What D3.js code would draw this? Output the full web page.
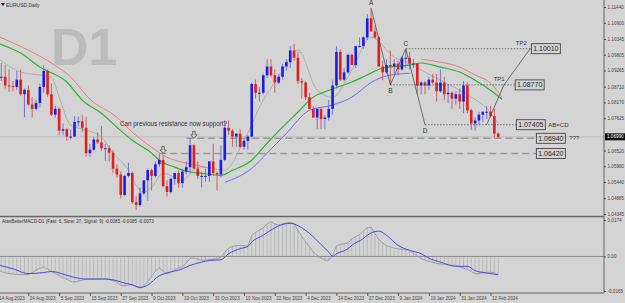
<!DOCTYPE html>
<html>
<head>
<meta charset="utf-8">
<script src="https://cdn.jsdelivr.net/npm/d3@7"></script>
<style>
  body { margin: 0; background: #d4d4d4; }
  svg { display: block; font-family: 'Liberation Sans', Arial, sans-serif; }
</style>
</head>
<body>
<svg id="chart" width="625" height="303"></svg>
<script>
// EURUSD daily, 14 Aug 2023 .. 14 Feb 2024 (bar index 0..130)
var open = [1.0950,1.0905,1.0905,1.0875,1.0873,1.0870,1.0895,1.0845,1.0860,1.0810,1.0795,1.0815,1.0870,1.0925,1.0845,1.0775,1.0795,1.0720,1.0725,1.0700,
  1.0700,1.0750,1.0752,1.0730,1.0643,1.0655,1.0690,1.0680,1.0660,1.0660,1.0645,1.0590,1.0570,1.0500,1.0565,1.0575,1.0475,1.0465,1.0505,1.0550,
  1.0585,1.0565,1.0605,1.0620,1.0530,1.0510,1.0555,1.0575,1.0540,1.0580,1.0595,1.0670,1.0590,1.0565,1.0565,1.0565,1.0615,1.0575,1.0570,1.0620,
  1.0730,1.0720,1.0700,1.0710,1.0665,1.0685,1.0700,1.0880,1.0850,1.0850,1.0910,1.0940,1.0910,1.0885,1.0905,1.0940,1.0955,1.0995,1.0970,1.0890,
  1.0885,1.0835,1.0795,1.0765,1.0795,1.0760,1.0765,1.0795,1.0875,1.0990,1.0895,1.0920,1.0980,1.0945,1.1010,1.1010,1.1040,1.1105,1.1060,1.1040,
  1.0940,1.0920,1.0945,1.0940,1.0950,1.0930,1.0970,1.0970,1.0950,1.0950,1.0875,1.0885,1.0875,1.0895,1.0885,1.0855,1.0885,1.0845,1.0850,1.0830,
  1.0845,1.0820,1.0875,1.0790,1.0745,1.0755,1.0775,1.0785,1.0785,1.0770,1.0710]
var high = [1.0960,1.0952,1.0945,1.0930,1.0890,1.0925,1.0930,1.0865,1.0875,1.0835,1.0826,1.0882,1.0945,1.0930,1.0882,1.0805,1.0800,1.0745,1.0730,1.0725,
  1.0770,1.0768,1.0775,1.0768,1.0675,1.0700,1.0715,1.0737,1.0675,1.0670,1.0655,1.0605,1.0580,1.0570,1.0610,1.0580,1.0495,1.0525,1.0550,1.0590,
  1.0590,1.0615,1.0640,1.0635,1.0550,1.0560,1.0575,1.0585,1.0590,1.0615,1.0695,1.0675,1.0615,1.0580,1.0590,1.0615,1.0675,1.0580,1.0670,1.0755,
  1.0755,1.0725,1.0710,1.0725,1.0690,1.0705,1.0885,1.0895,1.0870,1.0915,1.0965,1.0965,1.0930,1.0915,1.0950,1.0965,1.1010,1.1017,1.0990,1.0900,
  1.0890,1.0850,1.0805,1.0790,1.0795,1.0775,1.0825,1.0895,1.1010,1.1000,1.0935,1.0985,1.0985,1.1010,1.1040,1.1045,1.1120,1.1140,1.1080,1.1045,
  1.0960,1.0965,1.0995,1.0965,1.0960,1.0975,1.0998,1.0990,1.0965,1.0950,1.0890,1.0890,1.0905,1.0915,1.0915,1.0930,1.0905,1.0880,1.0855,1.0855,
  1.0865,1.0890,1.0885,1.0795,1.0765,1.0785,1.0785,1.0805,1.0805,1.0795,1.0715]
var low = [1.0878,1.0890,1.0865,1.0853,1.0855,1.0860,1.0840,1.0766,1.0805,1.0765,1.0790,1.0800,1.0850,1.0835,1.0770,1.0765,1.0705,1.0705,1.0685,1.0690,
  1.0700,1.0735,1.0715,1.0630,1.0630,1.0650,1.0675,1.0650,1.0617,1.0615,1.0575,1.0560,1.0488,1.0495,1.0560,1.0470,1.0448,1.0460,1.0500,1.0480,
  1.0515,1.0560,1.0595,1.0525,1.0495,1.0505,1.0535,1.0525,1.0525,1.0570,1.0575,1.0590,1.0555,1.0525,1.0545,1.0545,1.0565,1.0515,1.0560,1.0615,
  1.0705,1.0665,1.0665,1.0660,1.0655,1.0655,1.0695,1.0830,1.0820,1.0845,1.0900,1.0905,1.0850,1.0880,1.0895,1.0925,1.0935,1.0960,1.0880,1.0830,
  1.0825,1.0795,1.0765,1.0725,1.0725,1.0725,1.0755,1.0775,1.0865,1.0890,1.0890,1.0915,1.0945,1.0935,1.1005,1.1000,1.1030,1.1060,1.1035,1.0940,
  1.0893,1.0915,1.0877,1.0915,1.0910,1.0925,1.0935,1.0930,1.0935,1.0845,1.0845,1.0845,1.0860,1.0880,1.0820,1.0850,1.0825,1.0815,1.0795,1.0810,
  1.0795,1.0780,1.0780,1.0722,1.0720,1.0740,1.0750,1.0760,1.0765,1.0697,1.0695]
var close = [1.0905,1.0905,1.0875,1.0873,1.0870,1.0895,1.0845,1.0860,1.0810,1.0795,1.0815,1.0870,1.0925,1.0845,1.0775,1.0795,1.0720,1.0725,1.0700,1.0700,
  1.0750,1.0752,1.0730,1.0643,1.0655,1.0690,1.0680,1.0660,1.0660,1.0645,1.0590,1.0570,1.0500,1.0565,1.0575,1.0475,1.0465,1.0505,1.0550,1.0585,
  1.0565,1.0605,1.0620,1.0530,1.0510,1.0555,1.0575,1.0540,1.0580,1.0595,1.0670,1.0590,1.0565,1.0565,1.0565,1.0615,1.0575,1.0570,1.0620,1.0730,
  1.0720,1.0700,1.0710,1.0665,1.0685,1.0700,1.0880,1.0850,1.0850,1.0910,1.0940,1.0910,1.0885,1.0905,1.0940,1.0955,1.0995,1.0970,1.0890,1.0885,
  1.0835,1.0795,1.0765,1.0795,1.0760,1.0765,1.0795,1.0875,1.0990,1.0895,1.0920,1.0980,1.0945,1.1010,1.1010,1.1040,1.1105,1.1060,1.1040,1.0940,
  1.0920,1.0945,1.0940,1.0950,1.0930,1.0970,1.0970,1.0950,1.0950,1.0875,1.0885,1.0875,1.0895,1.0885,1.0855,1.0885,1.0845,1.0850,1.0830,1.0845,
  1.0820,1.0875,1.0790,1.0745,1.0755,1.0775,1.0785,1.0785,1.0770,1.0710,1.0699]

var tickIdx = [0, 8, 16, 24, 32, 40, 48, 56, 64, 72, 80, 88, 96, 104, 112, 120, 128]
var tickLabels = ['14 Aug 2023', '24 Aug 2023', '5 Sep 2023', '15 Sep 2023', '27 Sep 2023', '9 Oct 2023', '19 Oct 2023', '31 Oct 2023',
  '10 Nov 2023', '22 Nov 2023', '4 Dec 2023', '14 Dec 2023', '27 Dec 2023', '9 Jan 2024', '19 Jan 2024', '31 Jan 2024', '12 Feb 2024']
var priceTicks = [1.11440, 1.10900, 1.10345, 1.09805, 1.09265, 1.08710, 1.08170, 1.07625, 1.06520, 1.05980, 1.05440, 1.04885, 1.04345]
var lastPrice = 1.06990

// moving averages (bar index, price)
var greenIdx = [0, 6, 11, 18, 22, 27, 31, 35, 40, 42, 46, 49, 53, 58, 61, 66, 70, 74, 79, 81, 87, 92, 96, 100, 104, 107, 110, 115, 120, 124, 128, 131]
var greenVal = [1.1020, 1.0986, 1.0938, 1.0887, 1.0825, 1.0780, 1.0732, 1.0687, 1.0643, 1.0619, 1.0595, 1.0581, 1.0574, 1.0567, 1.0584, 1.0619,
  1.0677, 1.0732, 1.0797, 1.0825, 1.0863, 1.0887, 1.0911, 1.0935, 1.0941, 1.0945, 1.0952, 1.0938, 1.0921, 1.0893, 1.0859, 1.0828]
var redIdx = [0, 8, 14, 19, 24, 31, 35, 40, 44, 48, 53, 55]
var redVal = [1.1044, 1.0996, 1.0952, 1.0904, 1.0828, 1.0766, 1.0715, 1.0663, 1.0629, 1.0612, 1.0598, 1.0591]
var redIdx2 = [110, 115, 120, 124, 128, 131]
var redVal2 = [1.0965, 1.0955, 1.0938, 1.0911, 1.0883, 1.0835]
var blueIdx = [59, 66, 70, 75, 81, 87, 92, 97, 100, 104, 107]
var blueVal = [1.0543, 1.0591, 1.0643, 1.0711, 1.0790, 1.0808, 1.0835, 1.0885, 1.0904, 1.0914, 1.0917]
var grayIdx = [0, 6, 14, 16, 19, 23, 27, 30, 34, 36, 38, 40, 43, 46, 48, 52, 54, 59, 64, 69, 73, 78, 83, 87, 92, 97, 103, 107, 110, 115, 123, 127, 130]
var grayVal = [1.0969, 1.0921, 1.0904, 1.0835, 1.0739, 1.0722, 1.0698, 1.0643, 1.0584, 1.0533, 1.0509, 1.0526, 1.0574, 1.0560, 1.0550, 1.0595, 1.0595,
  1.0584, 1.0687, 1.0825, 1.0904, 1.0996, 1.0859, 1.0835, 1.0928, 1.1041, 1.0972, 1.0952, 1.0928, 1.0893, 1.0835, 1.0797, 1.0746]

// AB=CD pattern
var abcdIdx = [97, 102, 106, 111]
var abcdVal = [1.1140, 1.0877, 1.1001, 1.07405]
var abcdNames = ['A', 'B', 'C', 'D']
var projIdx = [127, 131.5, 138.3]
var projVal = [1.07405, 1.0877, 1.1001]
var targetVal = [1.10010, 1.08770, 1.07405]
var targetFrom = [106, 102, 111]
var targetTo = [138.6, 134.4, 134.7]
var targetNote = ['TP2', 'TP1', 'AB=CD']

// support levels
var levelVal = [1.06940, 1.06420]
var levelFrom = [49, 42]
var levelTo = 139.9
var arrowIdx = [51, 43]

// AtasBetterMACD (6, 27, 9)
var macd = [-0.0066,-0.0072,-0.0078,-0.0082,-0.0084,-0.0086,-0.0087,-0.0087,-0.0086,-0.0078,-0.0066,-0.0056,-0.0052,-0.0060,-0.0072,-0.0082,-0.0092,-0.0101,-0.0108,-0.0120,
  -0.0122,-0.0118,-0.0113,-0.0110,-0.0108,-0.0107,-0.0108,-0.0107,-0.0108,-0.0110,-0.0116,-0.0122,-0.0138,-0.0140,-0.0136,-0.0137,-0.0145,-0.0151,-0.0140,-0.0120,
  -0.0095,-0.0070,-0.0055,-0.0070,-0.0084,-0.0075,-0.0062,-0.0054,-0.0050,-0.0030,-0.0010,-0.0006,-0.0015,-0.0019,-0.0017,-0.0016,-0.0014,-0.0010,-0.0005,0.0020,
  0.0040,0.0048,0.0052,0.0053,0.0051,0.0050,0.0100,0.0115,0.0126,0.0136,0.0155,0.0166,0.0155,0.0150,0.0156,0.0160,0.0163,0.0158,0.0125,0.0095,
  0.0070,0.0045,0.0022,0.0005,-0.0008,-0.0017,-0.0019,0.0005,0.0050,0.0058,0.0060,0.0065,0.0085,0.0095,0.0105,0.0120,0.0138,0.0140,0.0110,0.0082,
  0.0065,0.0052,0.0045,0.0040,0.0036,0.0034,0.0031,0.0029,0.0015,0.0002,-0.0010,-0.0018,-0.0024,-0.0028,-0.0033,-0.0036,-0.0038,-0.0040,-0.0042,-0.0044,
  -0.0050,-0.0056,-0.0062,-0.0072,-0.0083,-0.0082,-0.0078,-0.0076,-0.0076,-0.0078,-0.0086]
var signalIdx = [0, 4, 8, 12, 14, 18, 20, 23, 28, 31, 33, 35, 37, 39, 42, 44, 48, 50, 53, 55, 58, 60, 63, 65, 66, 69, 71, 73, 76, 79, 81, 84, 86, 87, 88, 91, 92, 95, 96, 99, 101, 104, 107, 110, 112, 115, 119, 122, 124, 127, 130]
var signalVal = [-0.0040, -0.0059, -0.0082, -0.0077, -0.0072, -0.0090, -0.0100, -0.0108, -0.0108, -0.0116, -0.0127, -0.0135, -0.0148, -0.0137, -0.0092,
  -0.0079, -0.0059, -0.0043, -0.0027, -0.0019, -0.0016, 0.0013, 0.0037, 0.0048, 0.0069, 0.0101, 0.0126, 0.0146, 0.0158, 0.0137, 0.0110, 0.0057, 0.0021,
  0.0001, 0.0013, 0.0037, 0.0053, 0.0086, 0.0101, 0.0121, 0.0101, 0.0053, 0.0029, 0.0013, -0.0008, -0.0027, -0.0047, -0.0047, -0.0068, -0.0079, -0.0088]
var macdTicks = [0.0174, 0, -0.0165]
var macdTickText = ['0.0174', '0.00', '-0.0165']

var svg = d3.select('#chart')
var axisX = 604
var mainBottom = 216.5
var subBottom = 293

var x = d3.scaleLinear().domain([0, 128]).range([-2.5, 490.5])
var y = d3.scaleLinear().domain([1.04345, 1.11440]).range([214, 7])
var ym = d3.scaleLinear().domain([-0.0165, 0.0174]).range([291, 220])

svg.append('rect').attr('width', 625).attr('height', 303).attr('fill', '#d4d4d4')

var defs = svg.append('defs')
defs.append('clipPath').attr('id', 'clipMain').append('rect').attr('x', 0).attr('y', 0).attr('width', axisX).attr('height', mainBottom - 1)
defs.append('clipPath').attr('id', 'clipSub').append('rect').attr('x', 0).attr('y', mainBottom + 1).attr('width', axisX).attr('height', subBottom - mainBottom - 1)

// watermark + title
svg.append('text').attr('x', 51).attr('y', 65).text('D1')
  .attr('font-size', '52px').attr('font-weight', 'bold').attr('fill', '#bcbcbc')
svg.append('path').attr('d', 'M1,3 L5,3 L3,6 Z').attr('fill', '#222')
svg.append('text').attr('x', 6).attr('y', 7).text('EURUSD,Daily').attr('font-size', '5px').attr('fill', '#333')

var main = svg.append('g').attr('clip-path', 'url(#clipMain)')

// bid line
main.append('line').attr('x1', 0).attr('x2', axisX).attr('y1', y(lastPrice)).attr('y2', y(lastPrice))
  .attr('stroke', '#b8b8b8').attr('stroke-width', 0.8)

// support levels
levelVal.forEach(function (v, k) {
  main.append('line').attr('x1', x(levelFrom[k])).attr('x2', x(levelTo)).attr('y1', y(v)).attr('y2', y(v))
    .attr('stroke', '#9a9a9a').attr('stroke-width', 1.5).attr('stroke-dasharray', '7,4')
})

var line = function (idx, val) {
  return d3.line().x(function (d) { return x(idx[d]) }).y(function (d) { return y(val[d]) }).curve(d3.curveMonotoneX)(d3.range(idx.length))
}

main.append('path').attr('d', line(grayIdx, grayVal)).attr('fill', 'none').attr('stroke', '#a4a4a4').attr('stroke-width', 0.8)
main.append('path').attr('d', line(redIdx, redVal)).attr('fill', 'none').attr('stroke', '#f07a7a').attr('stroke-width', 1)
main.append('path').attr('d', line(redIdx2, redVal2)).attr('fill', 'none').attr('stroke', '#f07a7a').attr('stroke-width', 1)
main.append('path').attr('d', line(blueIdx, blueVal)).attr('fill', 'none').attr('stroke', '#6a6af0').attr('stroke-width', 1)
main.append('path').attr('d', line(greenIdx, greenVal)).attr('fill', 'none').attr('stroke', '#2fb02f').attr('stroke-width', 1.2)

// candles
var bars = main.append('g').selectAll('g').data(d3.range(close.length)).enter().append('g')
bars.append('line')
  .attr('x1', function (i) { return x(i) }).attr('x2', function (i) { return x(i) })
  .attr('y1', function (i) { return y(high[i]) }).attr('y2', function (i) { return y(low[i]) })
  .attr('stroke', function (i) { return close[i] >= open[i] ? '#5a5ad0' : '#c04848' }).attr('stroke-width', 0.8)
bars.append('rect')
  .attr('x', function (i) { return x(i) - 1.3 }).attr('width', 2.6)
  .attr('y', function (i) { return y(Math.max(open[i], close[i])) })
  .attr('height', function (i) { return Math.max(1, Math.abs(y(open[i]) - y(close[i]))) })
  .attr('fill', function (i) { return close[i] >= open[i] ? '#1c1ce0' : '#e41c1c' })

// AB=CD
var zz = d3.line().x(function (d) { return x(abcdIdx[d]) }).y(function (d) { return y(abcdVal[d]) })
main.append('path').attr('d', zz(d3.range(4))).attr('fill', 'none').attr('stroke', '#505050').attr('stroke-width', 0.8)
var pz = d3.line().x(function (d) { return x(projIdx[d]) }).y(function (d) { return y(projVal[d]) })
main.append('path').attr('d', pz(d3.range(3))).attr('fill', 'none').attr('stroke', '#505050').attr('stroke-width', 0.8)
abcdNames.forEach(function (n, k) {
  var up = k % 2 === 0
  main.append('text').attr('x', x(abcdIdx[k])).attr('y', y(abcdVal[k]) + (up ? -3 : 8)).text(n)
    .attr('text-anchor', 'middle').attr('font-size', '6.5px').attr('fill', '#333')
})
targetVal.forEach(function (v, k) {
  main.append('line').attr('x1', x(targetFrom[k])).attr('x2', x(targetTo[k])).attr('y1', y(v)).attr('y2', y(v))
    .attr('stroke', '#444').attr('stroke-width', 0.7).attr('stroke-dasharray', '1.5,1.5')
  var bx = x(targetTo[k])
  main.append('rect').attr('x', bx).attr('y', y(v) - 5).attr('width', 29).attr('height', 10)
    .attr('fill', 'none').attr('stroke', '#333').attr('stroke-width', 0.8)
  main.append('text').attr('x', bx + 14.5).attr('y', y(v) + 2.5).text(d3.format('.5f')(v))
    .attr('text-anchor', 'middle').attr('font-size', '7px').attr('fill', '#222')
  if (k < 2) {
    main.append('text').attr('x', bx - (k === 0 ? 10 : 16)).attr('y', y(v) - 4).text(targetNote[k])
      .attr('text-anchor', 'middle').attr('font-size', '6px').attr('fill', '#333')
  } else {
    main.append('text').attr('x', bx + 32).attr('y', y(v) + 2.3).text(targetNote[k]).attr('font-size', '6px').attr('fill', '#333')
  }
})

// level labels
levelVal.forEach(function (v, k) {
  var bx = x(levelTo)
  main.append('rect').attr('x', bx).attr('y', y(v) - 5).attr('width', 29).attr('height', 10)
    .attr('fill', 'none').attr('stroke', '#333').attr('stroke-width', 0.8)
  main.append('text').attr('x', bx + 14.5).attr('y', y(v) + 2.5).text(d3.format('.5f')(v))
    .attr('text-anchor', 'middle').attr('font-size', '7px').attr('fill', '#222')
})
main.append('text').attr('x', x(levelTo) + 33).attr('y', y(levelVal[0]) + 2).text('???').attr('font-size', '6px').attr('fill', '#333')

// arrows
arrowIdx.forEach(function (ai, k) {
  var cx = x(ai), ty = y(levelVal[k])
  var d = 'M' + (cx - 1.2) + ',' + (ty - 7) + ' h2.4 v3.5 h2 l-3.2,3.5 l-3.2,-3.5 h2 z'
  main.append('path').attr('d', d).attr('fill', 'none').attr('stroke', '#444').attr('stroke-width', 0.7)
})
main.append('text').attr('x', 120).attr('y', 126).text('Can previous resistance now support?')
  .attr('font-size', '6.3px').attr('fill', '#333')

// MACD panel
var sub = svg.append('g').attr('clip-path', 'url(#clipSub)')
sub.append('g').selectAll('line').data(d3.range(macd.length)).enter().append('line')
  .attr('x1', function (i) { return x(i) }).attr('x2', function (i) { return x(i) })
  .attr('y1', ym(0)).attr('y2', function (i) { return ym(macd[i]) })
  .attr('stroke', '#a8a8a8').attr('stroke-width', 0.6)
sub.append('line').attr('x1', 0).attr('x2', axisX).attr('y1', ym(0)).attr('y2', ym(0)).attr('stroke', '#7a7a7a').attr('stroke-width', 0.8)
sub.append('path').attr('d', d3.line().x(function (i) { return x(i) }).y(function (i) { return ym(macd[i]) })(d3.range(macd.length)))
  .attr('fill', 'none').attr('stroke', '#9a9a9a').attr('stroke-width', 0.9)
sub.append('path').attr('d', d3.line().x(function (d) { return x(signalIdx[d]) }).y(function (d) { return ym(signalVal[d]) }).curve(d3.curveMonotoneX)(d3.range(signalIdx.length)))
  .attr('fill', 'none').attr('stroke', '#4646ee').attr('stroke-width', 1)
svg.append('text').attr('x', 2).attr('y', 223).text('AtasBetterMACD-D1 (Fast: 6, Slow: 27, Signal: 9) -0.0085 -0.0085 -0.0073')
  .attr('font-size', '4.6px').attr('fill', '#333')

// frame
svg.append('line').attr('x1', 0).attr('x2', axisX).attr('y1', mainBottom).attr('y2', mainBottom).attr('stroke', '#666').attr('stroke-width', 1.4)
svg.append('line').attr('x1', 0).attr('x2', axisX).attr('y1', subBottom).attr('y2', subBottom).attr('stroke', '#666').attr('stroke-width', 1)
svg.append('line').attr('x1', axisX).attr('x2', axisX).attr('y1', 0).attr('y2', subBottom).attr('stroke', '#666').attr('stroke-width', 1)

// price axis
var pAxis = svg.append('g').attr('transform', 'translate(' + axisX + ',0)')
  .call(d3.axisRight(y).tickValues(priceTicks).tickFormat(d3.format('.5f')).tickSize(2).tickPadding(1.5))
pAxis.select('.domain').remove()
pAxis.selectAll('line').attr('stroke', '#555')
pAxis.selectAll('text').attr('font-size', '4.6px').attr('fill', '#444').attr('font-family', null)

svg.append('rect').attr('x', axisX + 1).attr('y', y(lastPrice) - 3.5).attr('width', 20).attr('height', 7).attr('fill', '#111')
svg.append('text').attr('x', axisX + 3).attr('y', y(lastPrice) + 1.6).text(d3.format('.5f')(lastPrice))
  .attr('font-size', '4.6px').attr('fill', '#fff')

var mAxis = svg.append('g').attr('transform', 'translate(' + axisX + ',0)')
  .call(d3.axisRight(ym).tickValues(macdTicks).tickFormat(function (d, k) { return macdTickText[k] }).tickSize(2).tickPadding(1.5))
mAxis.select('.domain').remove()
mAxis.selectAll('line').attr('stroke', '#555')
mAxis.selectAll('text').attr('font-size', '4.6px').attr('fill', '#444').attr('font-family', null)

// time axis
var tAxis = svg.append('g').attr('transform', 'translate(0,' + subBottom + ')')
  .call(d3.axisBottom(x).tickValues(tickIdx).tickFormat(function (d, k) { return tickLabels[k] }).tickSize(3).tickPadding(1))
tAxis.select('.domain').remove()
tAxis.selectAll('line').attr('stroke', '#555')
tAxis.selectAll('text').attr('text-anchor', 'start').attr('dx', '1').attr('font-size', '4.6px').attr('fill', '#444').attr('font-family', null)
</script>
</body>
</html>
